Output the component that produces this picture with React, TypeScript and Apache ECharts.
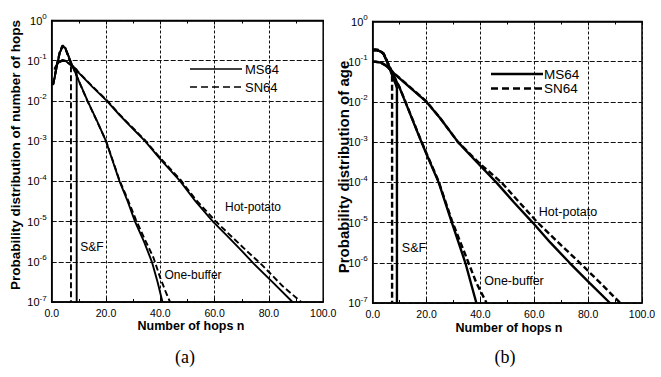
import React, { useEffect, useRef } from "react";
import * as echarts from "echarts";

const FONT = '"Liberation Sans", Arial, Helvetica, sans-serif';

// ---------- Panel (a): probability distribution of number of hops ----------
const aSfMsHops = [0.5, 1, 2, 3, 4, 5, 6, 7, 8, 9.2, 9.2];
const aSfMsProb = [0.025, 0.0355, 0.079, 0.158, 0.224, 0.209, 0.141, 0.089, 0.068, 0.06, 1e-7];
const aSfSnHops = [0.5, 1, 2, 3, 4, 5, 6, 7.1, 7.1];
const aSfSnProb = [0.026, 0.038, 0.085, 0.17, 0.24, 0.2, 0.13, 0.085, 1e-7];

const aObMsHops = [0.5, 1, 2, 3, 4, 5, 6, 7.5, 10, 13.2, 16.6, 20, 22.5, 25, 28, 30.7, 34, 36.9, 39, 40.8];
const aObMsProb = [0.025, 0.0355, 0.079, 0.158, 0.224, 0.209, 0.141, 0.079, 0.0316, 0.01, 3.3e-3, 1.0e-3, 3.16e-4, 1.0e-4, 3.16e-5, 1.0e-5, 3.16e-6, 1.0e-6, 3.16e-7, 1.0e-7];
const aObSnHops = [0.5, 1, 2, 3, 4, 5, 6, 7.5, 10, 13.2, 16.6, 20, 22.5, 25, 28, 31, 34, 37.5, 40, 42, 43.6];
const aObSnProb = [0.026, 0.038, 0.085, 0.17, 0.24, 0.205, 0.135, 0.078, 0.031, 0.0098, 3.2e-3, 1.02e-3, 3.3e-4, 1.05e-4, 3.55e-5, 1.12e-5, 3.98e-6, 1.26e-6, 3.98e-7, 1.78e-7, 1.0e-7];

const aHpMsHops = [1, 2, 3, 4, 5, 6, 8, 10, 15, 20.3, 25, 30, 34.4, 40, 47.4, 53, 59.4, 65, 70, 74.5, 82, 88.7];
const aHpMsProb = [0.063, 0.083, 0.095, 0.105, 0.1, 0.089, 0.071, 0.05, 0.0224, 0.01, 4.47e-3, 2.0e-3, 1.0e-3, 3.55e-4, 1.0e-4, 3.16e-5, 1.0e-5, 4.17e-6, 1.86e-6, 8.9e-7, 2.82e-7, 1.0e-7];
const aHpSnHops = [1, 2, 3, 4, 5, 6, 8, 10, 15, 20.3, 25, 30, 34.4, 40, 47.4, 53, 60.5, 67, 72, 77.5, 85, 91.9];
const aHpSnProb = [0.06, 0.08, 0.092, 0.1, 0.098, 0.088, 0.07, 0.051, 0.023, 0.0105, 4.6e-3, 2.1e-3, 1.05e-3, 3.8e-4, 1.1e-4, 3.55e-5, 1.0e-5, 3.8e-6, 1.82e-6, 8.3e-7, 2.5e-7, 1.0e-7];

// ---------- Panel (b): probability distribution of age ----------
const bSfMsHops = [0, 1, 2, 3, 4, 5.4, 7, 8.5, 9, 9];
const bSfMsProb = [0.19, 0.195, 0.19, 0.178, 0.158, 0.1, 0.05, 0.028, 0.022, 1e-7];
const bSfSnHops = [0, 1, 2, 3, 4, 5.4, 7.2, 7.2];
const bSfSnProb = [0.2, 0.2, 0.195, 0.18, 0.16, 0.1, 0.055, 1e-7];

const bObMsHops = [0, 1, 2, 3, 4, 5, 7, 10, 13, 17.5, 20, 24.5, 29.4, 34.4, 38.5];
const bObMsProb = [0.19, 0.195, 0.19, 0.178, 0.158, 0.112, 0.056, 0.0224, 7.1e-3, 1.26e-3, 5.0e-4, 1.0e-4, 1.0e-5, 1.0e-6, 1.0e-7];
const bObSnHops = [0, 1, 2, 3, 4, 5, 7, 10, 13, 17.5, 20, 24.5, 29.4, 34.4, 38.5, 42.3];
const bObSnProb = [0.2, 0.2, 0.195, 0.18, 0.16, 0.115, 0.058, 0.023, 7.3e-3, 1.3e-3, 5.2e-4, 1.05e-4, 1.12e-5, 1.58e-6, 3.16e-7, 1.0e-7];

const bHpMsHops = [0, 1, 3, 5, 8.5, 14, 20, 25, 31.7, 38, 45.9, 52.5, 59.4, 66, 73.1, 80.5, 88.1];
const bHpMsProb = [0.1, 0.1, 0.095, 0.079, 0.047, 0.0224, 0.01, 3.98e-3, 1.0e-3, 3.55e-4, 1.0e-4, 3.16e-5, 1.0e-5, 3.16e-6, 1.0e-6, 3.16e-7, 1.0e-7];
const bHpSnHops = [0, 1, 3, 5, 8.5, 14, 20, 25, 31.7, 40, 47.8, 54.5, 61.25, 69, 76.9, 84.5, 91.9];
const bHpSnProb = [0.1, 0.1, 0.096, 0.08, 0.048, 0.023, 0.0102, 4.0e-3, 1.0e-3, 2.82e-4, 1.0e-4, 3.16e-5, 1.0e-5, 3.16e-6, 1.0e-6, 3.16e-7, 1.0e-7];

const legendNames = ["MS64", "SN64"];

const pairs = (xs: number[], ys: number[]) => xs.map((x, i) => [x, ys[i]]);

export default function App() {
  const ref = useRef<HTMLDivElement>(null);

  useEffect(() => {
    if (!ref.current) return;
    const chart = echarts.init(ref.current, null, { renderer: "svg" });

    const grids = [
      { left: 51.7, top: 20.5, width: 271.5, height: 281.5 },
      { left: 372.7, top: 21.5, width: 269.3, height: 281.5 },
    ];

    const makeX = (gi: number, pos: "bottom" | "top") => ({
      type: "value",
      gridIndex: gi,
      position: pos,
      min: 0,
      max: 100,
      interval: 20,
      axisLine: { show: true, onZero: false, lineStyle: { color: "#000", width: 1.5 } },
      axisTick: { show: true, inside: true, length: 4, lineStyle: { color: "#000", width: 1 } },
      minorTick: { show: true, splitNumber: 2, length: 3, lineStyle: { color: "#000", width: 1 } },
      axisLabel: {
        show: pos === "bottom",
        margin: 5,
        fontSize: 10.5,
        fontFamily: FONT,
        color: "#000",
        formatter: (v: number) => v.toFixed(1),
      },
      splitLine: {
        show: pos === "bottom",
        lineStyle: { color: "#111", width: 1, type: [3, 2] },
      },
    });

    const makeY = (gi: number) => ({
      type: "log",
      logBase: 10,
      gridIndex: gi,
      min: 1e-7,
      max: 1,
      axisLine: { show: true, lineStyle: { color: "#000", width: 1.5 } },
      axisTick: { show: false },
      axisLabel: {
        margin: 5,
        color: "#000",
        fontFamily: FONT,
        formatter: (v: number) => `{b|10}{s|${Math.round(Math.log10(v))}}`,
        rich: {
          b: { fontSize: 11, fontFamily: FONT, color: "#000" },
          s: { fontSize: 8, fontFamily: FONT, color: "#000", padding: [0, 0, 8, 0] },
        },
      },
      splitLine: { show: true, lineStyle: { color: "#111", width: 1.2, type: [5, 2] } },
    });

    const mk = (name: string, xi: number, yi: number, xs: number[], ys: number[], w: number, dashed: boolean) => ({
      type: "line",
      name,
      xAxisIndex: xi,
      yAxisIndex: yi,
      data: pairs(xs, ys),
      symbol: "none",
      smooth: false,
      lineStyle: { color: "#000", width: w, type: dashed ? [6, 3] : "solid" },
      itemStyle: { color: "#000" },
      z: 3,
    });

    const wa = 1.9;
    const wb = 2.4;
    const series = [
      mk("MS64", 0, 0, aSfMsHops, aSfMsProb, wa, false),
      mk("SN64", 0, 0, aSfSnHops, aSfSnProb, wa, true),
      mk("MS64", 0, 0, aObMsHops, aObMsProb, wa, false),
      mk("SN64", 0, 0, aObSnHops, aObSnProb, wa, true),
      mk("MS64", 0, 0, aHpMsHops, aHpMsProb, wa, false),
      mk("SN64", 0, 0, aHpSnHops, aHpSnProb, wa, true),
      mk("MS64", 2, 1, bSfMsHops, bSfMsProb, wb, false),
      mk("SN64", 2, 1, bSfSnHops, bSfSnProb, wb, true),
      mk("MS64", 2, 1, bObMsHops, bObMsProb, wb, false),
      mk("SN64", 2, 1, bObSnHops, bObSnProb, wb, true),
      mk("MS64", 2, 1, bHpMsHops, bHpMsProb, wb, false),
      mk("SN64", 2, 1, bHpSnHops, bHpSnProb, wb, true),
    ];

    const txt = (text: string, x: number, y: number, size: number, weight = "normal", rot = 0, family = FONT, align = "center") => ({
      type: "text",
      x,
      y,
      rotation: rot,
      style: {
        text,
        fontSize: size,
        fontWeight: weight,
        fontFamily: family,
        fill: "#000",
        align,
        verticalAlign: "middle",
      },
      z: 10,
    });

    const legLine = (x1: number, x2: number, y: number, w: number, dashed: boolean) => ({
      type: "line",
      shape: { x1, y1: y, x2, y2: y },
      style: { stroke: "#000", lineWidth: w, lineDash: dashed ? [7, 4] : null },
      z: 10,
    });

    chart.setOption({
      animation: false,
      backgroundColor: "#fff",
      grid: grids.map((g) => ({ ...g, show: true, borderColor: "#000", borderWidth: 1.5, backgroundColor: "transparent" })),
      xAxis: [makeX(0, "bottom"), makeX(0, "top"), makeX(1, "bottom"), makeX(1, "top")],
      yAxis: [makeY(0), makeY(1)],
      series,
      graphic: [
        txt("Probability distribution of number of hops", 15, 155, 13.5, "bold", Math.PI / 2),
        txt("Probability distribution of age", 343, 167, 15, "bold", Math.PI / 2),
        txt("Number of hops n", 191, 326, 12.5, "bold"),
        txt("Number of hops n", 509, 328, 12.5, "bold"),
        txt("Hot-potato", 253, 207, 12),
        txt("S&F", 92, 247, 12),
        txt("One-buffer", 193, 275, 12),
        txt("Hot-potato", 568, 212, 12.5),
        txt("S&F", 414, 248, 12.5),
        txt("One-buffer", 514, 281, 12.5),
        txt("(a)", 185, 357, 18, "normal", 0, '"Liberation Serif", "DejaVu Serif", serif'),
        txt("(b)", 505, 357, 18, "normal", 0, '"Liberation Serif", "DejaVu Serif", serif'),
        // legends
        legLine(190, 242, 69, 1.4, false),
        legLine(190, 242, 87, 1.6, true),
        txt(legendNames[0], 245, 69, 13, "normal", 0, FONT, "left"),
        txt(legendNames[1], 245, 87, 13, "normal", 0, FONT, "left"),
        legLine(491, 543, 74, 2.6, false),
        legLine(491, 543, 88.5, 2.6, true),
        txt(legendNames[0], 544, 74, 13.5, "normal", 0, FONT, "left"),
        txt(legendNames[1], 544, 88.5, 13.5, "normal", 0, FONT, "left"),
      ],
    });

    return () => chart.dispose();
  }, []);

  return (
    <div
      ref={ref}
      style={{ position: "absolute", left: 0, top: 0, width: 661, height: 377, background: "#fff" }}
    />
  );
}
